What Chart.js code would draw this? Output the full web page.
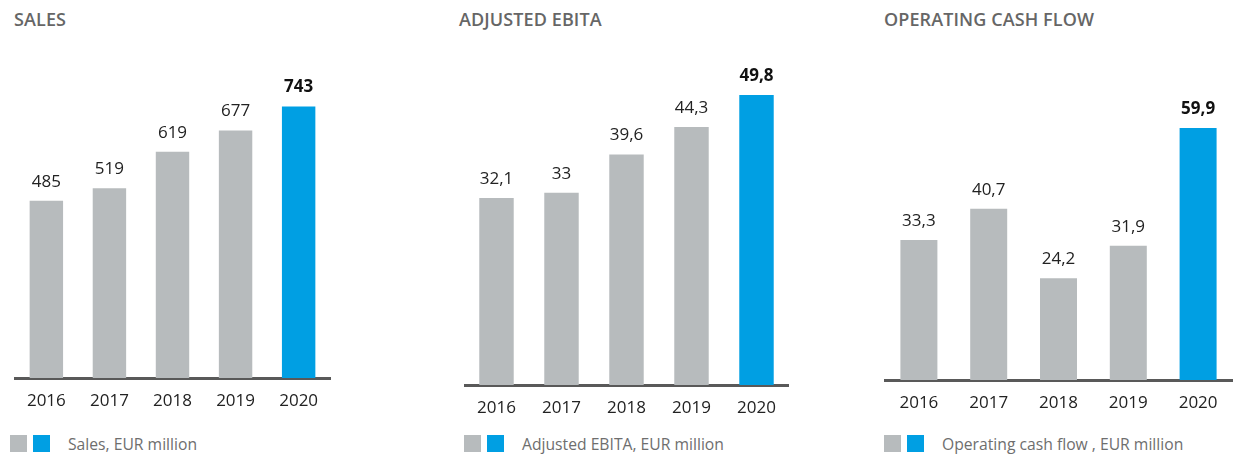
<!DOCTYPE html>
<html>
<head>
<meta charset="utf-8">
<script src="https://cdn.jsdelivr.net/npm/chart.js@4"></script>
<style>
    body { margin: 0; background: #fff; font-family: 'Open Sans', sans-serif; }
    #page { position: relative; width: 1235px; height: 454px; overflow: hidden; }
    .title { position: absolute; top: 7px; font-size: 18px; font-weight: 600; color: #666; letter-spacing: 0.1px; }
    .box { position: absolute; top: 40px; }
    .legend { position: absolute; top: 435px; height: 17px; display: flex; align-items: center; font-size: 15.7px; color: #6e6e6e; }
    .sq { width: 17px; height: 17px; margin-right: 6px; }
    .legend span.txt { margin-left: 12px; }
</style>
</head>
<body>
<div id="page">
    <div class="title" style="left:14px">SALES</div>
    <div class="title" style="left:459px">ADJUSTED EBITA</div>
    <div class="title" style="left:884px">OPERATING CASH FLOW</div>

    <div class="box" style="left:14px;width:317px;height:378px"><canvas id="salesChart"></canvas></div>
    <div class="box" style="left:464px;width:325px;height:385px"><canvas id="ebitaChart"></canvas></div>
    <div class="box" style="left:884px;width:349px;height:380px"><canvas id="cashChart"></canvas></div>

    <div class="legend" style="left:10px"><div class="sq" style="background:#b7bbbd"></div><div class="sq" style="background:#009fe3"></div><span class="txt">Sales, EUR million</span></div>
    <div class="legend" style="left:464px"><div class="sq" style="background:#b7bbbd"></div><div class="sq" style="background:#009fe3"></div><span class="txt">Adjusted EBITA, EUR million</span></div>
    <div class="legend" style="left:884px"><div class="sq" style="background:#b7bbbd"></div><div class="sq" style="background:#009fe3"></div><span class="txt">Operating cash flow , EUR million</span></div>
</div>
<script>
// Data
const years = ['2016', '2017', '2018', '2019', '2020'];
const salesValues = [485, 519, 619, 677, 743];
const ebitaValues = [32.1, 33, 39.6, 44.3, 49.8];
const cashValues = [33.3, 40.7, 24.2, 31.9, 59.9];

const GREY = '#b7bbbd';
const BLUE = '#009fe3';

function fmt(v) {
    return String(v).replace('.', ',');
}

// draws value labels above each bar, last one bold
const valueLabels = {
    id: 'valueLabels',
    afterDatasetsDraw(chart) {
        const ctx = chart.ctx;
        const meta = chart.getDatasetMeta(0);
        const values = chart.data.datasets[0].data;
        ctx.save();
        ctx.textAlign = 'center';
        ctx.textBaseline = 'middle';
        meta.data.forEach((bar, i) => {
            const last = i === values.length - 1;
            ctx.font = (last ? '700 ' : '400 ') + '17px "Open Sans"';
            ctx.fillStyle = last ? '#111' : '#222';
            ctx.fillText(fmt(values[i]), bar.x, bar.y - 19);
        });
        ctx.restore();
    }
};

function makeChart(id, values, maxY) {
    const ctx = document.getElementById(id).getContext('2d');
    return new Chart(ctx, {
        type: 'bar',
        data: {
            labels: years,
            datasets: [{
                data: values,
                backgroundColor: values.map((v, i) => i === values.length - 1 ? BLUE : GREY),
                borderWidth: 0,
                categoryPercentage: 1,
                barPercentage: 0.53
            }]
        },
        options: {
            responsive: true,
            maintainAspectRatio: false,
            animation: false,
            layout: { padding: 0 },
            plugins: {
                legend: { display: false },
                tooltip: { enabled: false }
            },
            scales: {
                x: {
                    grid: { display: true, color: 'rgba(0,0,0,0)', drawTicks: false },
                    border: { display: true, color: '#595959', width: 3 },
                    ticks: {
                        color: '#222',
                        padding: 13,
                        font: { family: 'Open Sans', size: 17 }
                    },
                    afterFit(scale) { scale.height = 40; }
                },
                y: {
                    display: false,
                    min: 0,
                    max: maxY
                }
            }
        },
        plugins: [valueLabels]
    });
}

makeChart('salesChart', salesValues, 925);
makeChart('ebitaChart', ebitaValues, 59.24);
makeChart('cashChart', cashValues, 80.8);
</script>
</body>
</html>
